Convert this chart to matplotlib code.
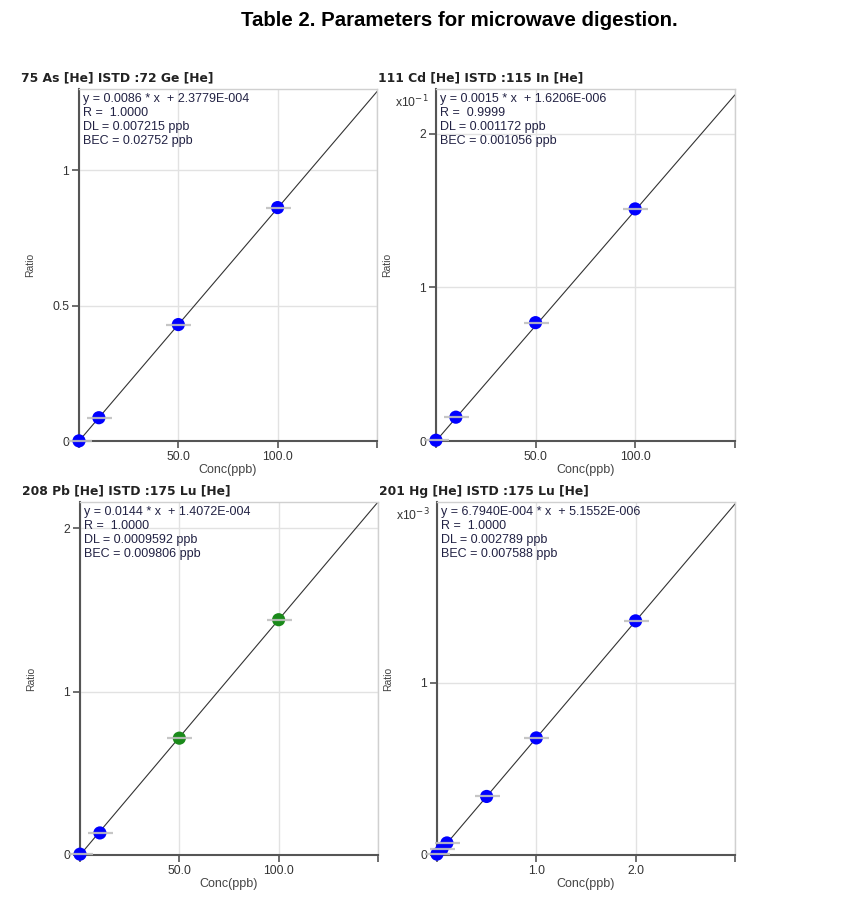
import matplotlib

matplotlib.use("Agg")

import matplotlib.pyplot as plt

plt.rcParams["font.family"] = ["Liberation Sans", "DejaVu Sans"]

# calibration data
as_conc = [0, 10, 50, 100]
as_ratio = [0.0005, 0.086, 0.43, 0.862]
cd_conc = [0, 10, 50, 100]
cd_ratio = [0.005, 0.155, 0.77, 1.51]          # x10^-1
pb_conc = [0, 10, 50, 100]
pb_ratio = [0.005, 0.135, 0.715, 1.44]
pb_colors = ["#0000ff", "#0000ff", "#1a8a1a", "#1a8a1a"]
hg_conc = [0, 0.05, 0.1, 0.5, 1.0, 2.0]
hg_ratio = [0.005, 0.035, 0.07, 0.34, 0.68, 1.36]  # x10^-3

slopes = [0.0086, 0.015, 0.0144, 0.6794]       # in displayed units
titles = [
    "75 As [He] ISTD :72 Ge [He]",
    "111 Cd [He] ISTD :115 In [He]",
    "208 Pb [He] ISTD :175 Lu [He]",
    "201 Hg [He] ISTD :175 Lu [He]",
]
fit_texts = [
    "y = 0.0086 * x  + 2.3779E-004\nR =  1.0000\nDL = 0.007215 ppb\nBEC = 0.02752 ppb",
    "y = 0.0015 * x  + 1.6206E-006\nR =  0.9999\nDL = 0.001172 ppb\nBEC = 0.001056 ppb",
    "y = 0.0144 * x  + 1.4072E-004\nR =  1.0000\nDL = 0.0009592 ppb\nBEC = 0.009806 ppb",
    "y = 6.7940E-004 * x  + 5.1552E-006\nR =  1.0000\nDL = 0.002789 ppb\nBEC = 0.007588 ppb",
]
x_ticks = [[0, 50, 100, 150]] * 3 + [[0, 1, 2, 3]]
x_labels = [["", "50.0", "100.0", ""]] * 3 + [["", "1.0", "2.0", ""]]
y_ticks = [[0, 0.5, 1], [0, 1, 2], [0, 1, 2], [0, 1]]
y_labels = [["0", "0.5", "1"], ["0", "1", "2"], ["0", "1", "2"], ["0", "1"]]
x_max = [150, 150, 150, 3.0]
y_max = [1.30, 2.29, 2.16, 2.05]
exponents = [None, "x10$^{-1}$", None, "x10$^{-3}$"]

series = [
    (as_conc, as_ratio, ["#0000ff"] * 4),
    (cd_conc, cd_ratio, ["#0000ff"] * 4),
    (pb_conc, pb_ratio, pb_colors),
    (hg_conc, hg_ratio, ["#0000ff"] * 6),
]

fig = plt.figure(figsize=(8.56, 8.98), dpi=100)
fig.text(0.537, 0.977, "Table 2. Parameters for microwave digestion.",
         ha="center", va="center", fontsize=14.7, fontweight="bold")

positions = [
    (0.0923, 0.5089, 0.348, 0.392),
    (0.5093, 0.5089, 0.349, 0.392),
    (0.0935, 0.0479, 0.348, 0.393),
    (0.5105, 0.0479, 0.348, 0.393),
]

for i, pos in enumerate(positions):
    ax = fig.add_axes(pos)
    xs, ys, cols = series[i]
    ax.set_xlim(0, x_max[i])
    ax.set_ylim(0, y_max[i])

    ax.plot([0, x_max[i]], [0, slopes[i] * x_max[i]], color="#333333", lw=0.8, zorder=2)
    ax.scatter(xs, ys, s=90, c=cols, zorder=3, edgecolors="none", clip_on=False)
    ax.plot(xs, ys, ls="none", marker="_", ms=18, mew=1.6, color="#c0c0c0",
            alpha=0.9, zorder=4, clip_on=False)

    ax.set_xticks(x_ticks[i])
    ax.set_xticklabels(x_labels[i], fontsize=8.8, color="#333333")
    ax.set_yticks(y_ticks[i])
    ax.set_yticklabels(y_labels[i], fontsize=8.8, color="#333333")
    ax.tick_params(axis="both", length=5, width=1.2, color="#555555", pad=2)
    ax.grid(True, color="#e2e2e2", lw=1)
    ax.set_axisbelow(True)

    for side in ("left", "bottom"):
        ax.spines[side].set_color("#555555")
        ax.spines[side].set_linewidth(1.5)
    for side in ("top", "right"):
        ax.spines[side].set_color("#d0d0d0")
        ax.spines[side].set_linewidth(1)

    ax.set_xlabel("Conc(ppb)", fontsize=9, color="#444444", labelpad=1)
    ax.set_ylabel("Ratio", fontsize=7.5, color="#444444")
    ax.yaxis.set_label_coords(-0.147, 0.5)

    ax.text(0.013, 0.99, fit_texts[i], transform=ax.transAxes, ha="left", va="top",
            fontsize=9, color="#222244", linespacing=1.24)

    fig.text(pos[0] - 0.068, pos[1] + pos[3] + 0.012, titles[i], fontsize=8.9,
             fontweight="bold", color="#222222", ha="left", va="center",
             family="DejaVu Sans")

    if exponents[i]:
        ax.text(-0.025, 0.962, exponents[i], transform=ax.transAxes, ha="right",
                va="center", fontsize=8.8, color="#333333")

fig.savefig("out.png", dpi=100, facecolor="white")
